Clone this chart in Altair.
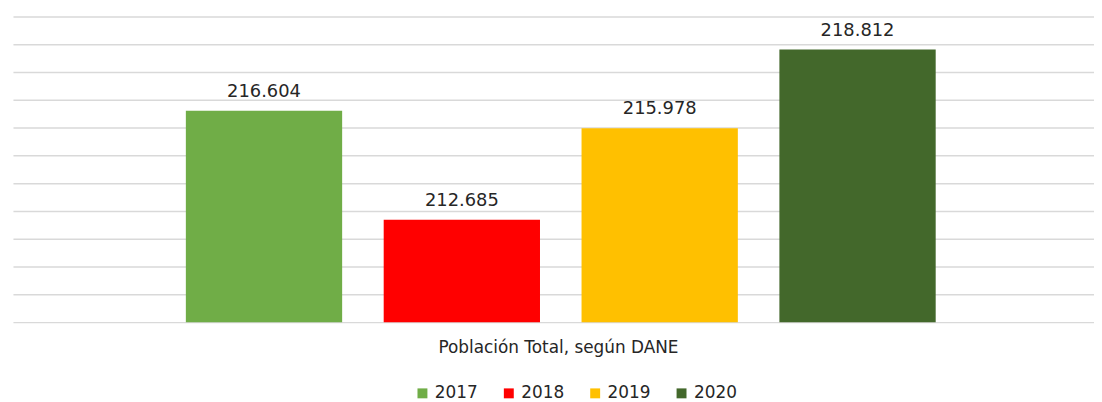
import altair as alt
import pandas as pd

years = ["2017", "2018", "2019", "2020"]
values = [216.604, 212.685, 215.978, 218.812]
labels = ["216.604", "212.685", "215.978", "218.812"]
colors = ["#70AD47", "#FF0000", "#FFC000", "#43682B"]
grid_values = [209, 210, 211, 212, 213, 214, 215, 216, 217, 218, 219, 220]
category_title = "Población Total, según DANE"

df = pd.DataFrame({"year": years, "value": values, "label": labels})

FONT = "DejaVu Sans"

x_scale = alt.Scale(paddingInner=0.21, paddingOuter=0.837, align=0.522)
y_scale = alt.Scale(domain=[209, 220], zero=False, nice=False, clamp=True)

x_axis = alt.Axis(
    title=category_title,
    labels=False,
    ticks=False,
    domain=False,
    grid=False,
    titleFont=FONT,
    titleFontSize=17,
    titleFontWeight="normal",
    titleColor="#262626",
    titleX=549,
    titleY=31,
    titleBaseline="alphabetic",
    titleAnchor="middle",
    titleAlign="center",
)

y_axis = alt.Axis(
    title=None,
    labels=False,
    ticks=False,
    domain=False,
    grid=True,
    values=grid_values,
    labelOverlap=False,
    gridColor="#d9d9d9",
    gridWidth=1.5,
)

x = alt.X("year:N", sort=years, scale=x_scale, axis=x_axis)
y = alt.Y("value:Q", scale=y_scale, axis=y_axis)

bars = alt.Chart(df).mark_bar().encode(
    x=x,
    y=y,
    color=alt.Color(
        "year:N",
        sort=years,
        scale=alt.Scale(domain=years, range=colors),
        legend=alt.Legend(
            title=None,
            orient="none",
            legendX=404,
            legendY=371,
            direction="horizontal",
            symbolType="square",
            symbolSize=100,
            symbolStrokeWidth=0,
            labelFont=FONT,
            labelFontSize=17,
            labelColor="#262626",
            labelOffset=4,
            columnPadding=22,
        ),
    ),
)

text = alt.Chart(df).mark_text(
    baseline="alphabetic", dy=-14, font=FONT, fontSize=18, color="#262626"
).encode(
    x=x,
    y=y,
    text="label:N",
)

chart = (
    alt.layer(bars, text)
    .properties(
        width=1089,
        height=308,
        autosize=alt.AutoSizeParams(type="none"),
        padding={"left": 5, "top": 7, "right": 0, "bottom": 78},
        background="white",
    )
    .configure_view(stroke=None)
)

chart.save("out.html", embed_options={"renderer": "svg", "actions": False})
